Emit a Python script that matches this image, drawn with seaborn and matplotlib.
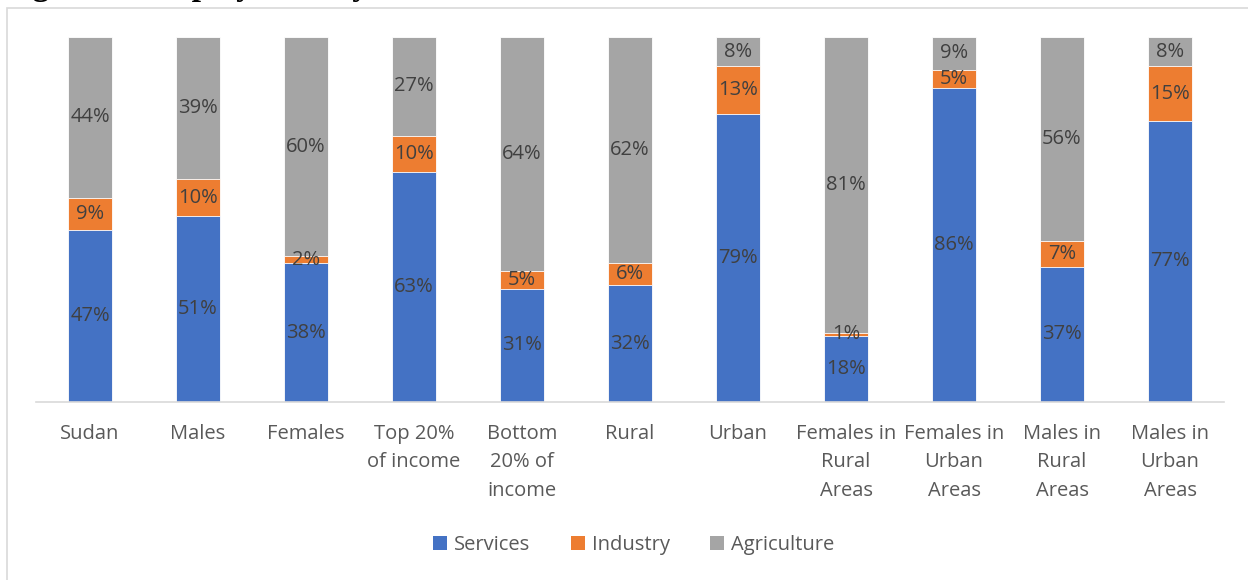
import matplotlib
matplotlib.use("Agg")
import matplotlib.pyplot as plt
import seaborn as sns
import pandas as pd
from matplotlib.patches import Rectangle, Patch

# Employment shares by sector (%)
categories = [
    "Sudan", "Males", "Females", "Top 20%\nof income", "Bottom\n20% of\nincome",
    "Rural", "Urban", "Females in\nRural\nAreas", "Females in\nUrban\nAreas",
    "Males in\nRural\nAreas", "Males in\nUrban\nAreas",
]
services = [47, 51, 38, 63, 31, 32, 79, 18, 86, 37, 77]
industry = [9, 10, 2, 10, 5, 6, 13, 1, 5, 7, 15]
agriculture = [44, 39, 60, 27, 64, 62, 8, 81, 9, 56, 8]

series_names = ["Services", "Industry", "Agriculture"]
colors = {"Services": "#4472C4", "Industry": "#ED7D31", "Agriculture": "#A5A5A5"}

sns.set_theme(style="white")
plt.rcParams["font.family"] = ["Open Sans", "DejaVu Sans"]

W, H = 1248, 580
fig = plt.figure(figsize=(W / 100, H / 100), dpi=100)
fig.patch.set_facecolor("white")

# outer chart frame (left and top edges visible)
fig.patches.append(Rectangle((6.5 / W, -0.1), 1.2, (H - 7.5) / H + 0.1,
                             transform=fig.transFigure, fill=False,
                             edgecolor="#D9D9D9", linewidth=1.2, zorder=0))

# caption sitting above the frame, mostly beyond the top edge
fig.text(3 / W, (H + 5.5) / H, "Figure 7: Employment by Sector",
         fontsize=24, fontweight="bold", family="Liberation Serif",
         ha="left", va="baseline", color="black")

ax = fig.add_axes([36 / W, (H - 402) / H, 1188 / W, 365 / H])

df = pd.DataFrame({"cat": categories, "Services": services,
                   "Industry": industry, "Agriculture": agriculture})
df["cum_s"] = df["Services"]
df["cum_i"] = df["Services"] + df["Industry"]
df["cum_a"] = df["Services"] + df["Industry"] + df["Agriculture"]

width = 0.41
for col, name in [("cum_a", "Agriculture"), ("cum_i", "Industry"), ("cum_s", "Services")]:
    sns.barplot(data=df, x="cat", y=col, color=colors[name], width=width,
                saturation=1, edgecolor="white", linewidth=0.6, ax=ax)

# segment labels
label_color = "#404040"
for i in range(len(categories)):
    bottoms = [0, services[i], services[i] + industry[i]]
    vals = [services[i], industry[i], agriculture[i]]
    for b, v in zip(bottoms, vals):
        ax.text(i, b + v / 2, f"{v}%", ha="center", va="center",
                fontsize=14.5, color=label_color)

ax.set_xlim(-0.5, len(categories) - 0.5)
ax.set_ylim(0, 100)
ax.set_xlabel("")
ax.set_ylabel("")
ax.set_yticks([])
for s in ["top", "right", "left"]:
    ax.spines[s].set_visible(False)
ax.spines["bottom"].set_color("#D9D9D9")
ax.spines["bottom"].set_linewidth(1.2)
ax.tick_params(axis="x", length=0, pad=16)
ax.set_xticks(range(len(categories)))
ax.set_xticklabels(categories, fontsize=14.5, color="#595959",
                   linespacing=1.55, va="top")

handles = [Patch(facecolor=colors[n], edgecolor="none") for n in series_names]
fig.legend(handles, series_names, loc="center", ncol=3,
           bbox_to_anchor=(634 / W, 1 - 545 / H), frameon=False,
           fontsize=14.5, labelcolor="#595959", handlelength=0.7,
           handleheight=0.7, handletextpad=0.35, columnspacing=2.0)

fig.savefig("out.png", dpi=100, facecolor="white")
